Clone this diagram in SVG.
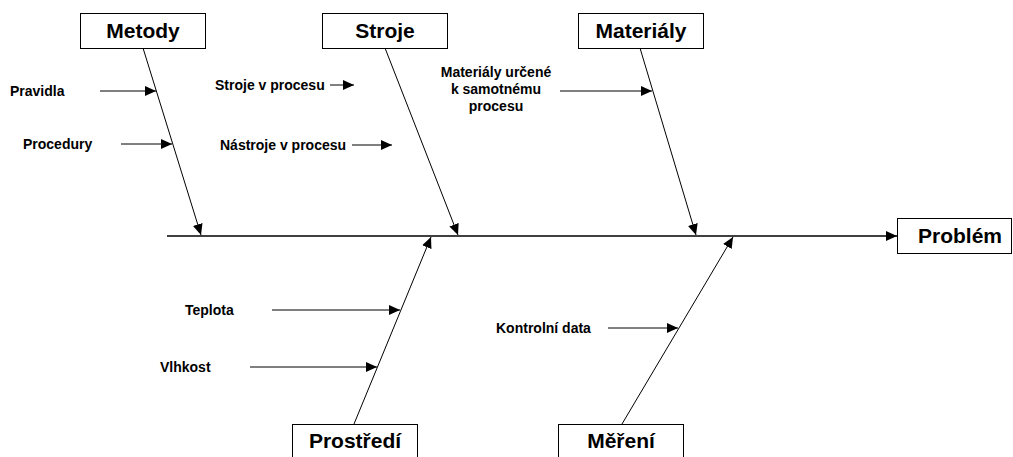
<svg xmlns="http://www.w3.org/2000/svg" width="1013" height="457" viewBox="0 0 1013 457">
<style>
.box{fill:#fff;stroke:#000;stroke-width:1}
.big{font-family:"Liberation Sans",Arial,sans-serif;font-weight:bold;font-size:21px;fill:#000;text-anchor:middle}
.sm{font-family:"Liberation Sans",Arial,sans-serif;font-weight:bold;font-size:14px;fill:#000}
.ln{stroke:#000;stroke-width:1;fill:none;marker-end:url(#ah)}
</style>
<defs>
<marker id="ah" markerUnits="userSpaceOnUse" markerWidth="12" markerHeight="10" refX="11" refY="5" orient="auto">
<path d="M0,0 L11,5 L0,10 Z" fill="#000"/>
</marker>
</defs>
<rect width="1013" height="457" fill="#fff"/>
<g id="connectors">
<line class="ln" x1="167" y1="236" x2="897" y2="236" style="stroke-width:1.3"/>
<line class="ln" x1="143" y1="48" x2="201" y2="235"/>
<line class="ln" x1="385" y1="48" x2="458" y2="235"/>
<line class="ln" x1="640" y1="48" x2="696" y2="235"/>
<line class="ln" x1="354" y1="424" x2="431" y2="237"/>
<line class="ln" x1="622" y1="424" x2="733" y2="237"/>
<line class="ln" x1="100" y1="91" x2="156" y2="91"/>
<line class="ln" x1="121" y1="144" x2="172" y2="144"/>
<line class="ln" x1="330" y1="85" x2="354" y2="85"/>
<line class="ln" x1="352" y1="145" x2="392" y2="145"/>
<line class="ln" x1="560" y1="91" x2="652" y2="91"/>
<line class="ln" x1="272" y1="310" x2="400" y2="310"/>
<line class="ln" x1="250" y1="367" x2="377" y2="367"/>
<line class="ln" x1="608" y1="328" x2="678" y2="328"/>
</g>
<g id="metody"><rect class="box" x="80.5" y="13.5" width="125" height="35"/><text class="big" x="143" y="38">Metody</text></g>
<g id="stroje"><rect class="box" x="322.5" y="13.5" width="125" height="35"/><text class="big" x="385" y="38">Stroje</text></g>
<g id="materialy"><rect class="box" x="578.5" y="13.5" width="125" height="35"/><text class="big" x="641" y="38">Materiály</text></g>
<g id="problem"><rect class="box" x="897.5" y="218.5" width="114" height="35"/><text class="big" x="960" y="243">Problém</text></g>
<g id="prostredi"><rect class="box" x="292.5" y="424.5" width="125" height="40"/><text class="big" x="355" y="448">Prostředí</text></g>
<g id="mereni"><rect class="box" x="558.5" y="424.5" width="125" height="40"/><text class="big" x="621" y="448">Měření</text></g>
<g id="labels">
<text class="sm" x="10" y="96">Pravidla</text>
<text class="sm" x="23" y="149">Procedury</text>
<text class="sm" x="215" y="90">Stroje v procesu</text>
<text class="sm" x="220" y="150">Nástroje v procesu</text>
<text class="sm" x="496" y="77" text-anchor="middle">Materiály určené</text>
<text class="sm" x="496" y="94" text-anchor="middle">k samotnému</text>
<text class="sm" x="496" y="111" text-anchor="middle">procesu</text>
<text class="sm" x="185" y="315">Teplota</text>
<text class="sm" x="160" y="372">Vlhkost</text>
<text class="sm" x="496" y="333">Kontrolní data</text>
</g>
</svg>
